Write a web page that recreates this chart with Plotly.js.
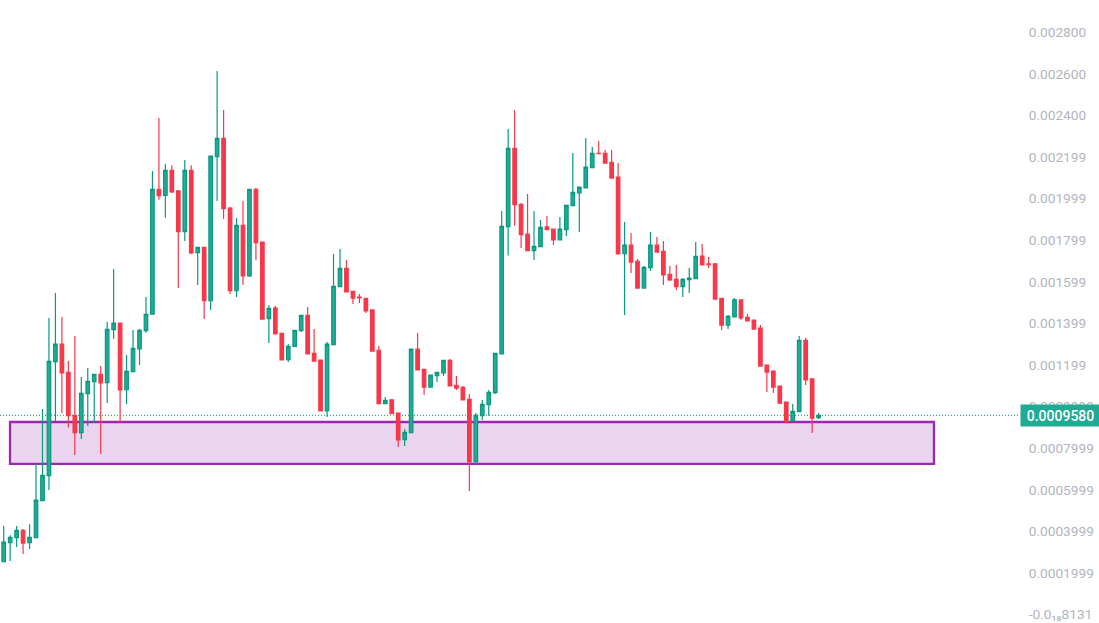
<!DOCTYPE html>
<html>
<head>
<meta charset="utf-8">
<script src="https://cdn.plot.ly/plotly-3.0.1.min.js"></script>
<style>html,body{margin:0;padding:0;background:#fff}#c{width:1099px;height:623px}</style>
</head>
<body>
<div id="c"></div>
<script>
// Prices in millionths (1e-6)
const openM = [254,346,370,405,346,370,548,668,1216,1300,1165,958,875,1062,1120,1155,1115,1370,1401,1081,1168,1278,1365,1444,2045,2016,2136,2037,1841,2136,1740,1766,1509,2202,2290,1954,1557,1872,1629,2045,1791,1423,1474,1352,1226,1290,1365,1439,1256,1224,979,1298,1577,1665,1554,1526,1521,1465,1271,1014,1032,969,841,875,1276,1179,1094,1149,1162,1223,1102,1093,1035,734,956,1009,1067,1254,1865,2242,1973,1829,1750,1769,1864,1853,1802,1851,1966,2028,2052,2149,2218,2218,2175,2103,1735,1776,1699,1570,1668,1776,1747,1636,1612,1577,1610,1615,1724,1686,1686,1521,1392,1431,1513,1429,1416,1378,1200,1171,1099,1022,931,976,1319,1133,947];
const highM = [426,381,426,412,434,724,989,1426,1546,1431,1219,1340,1142,1186,1155,1195,1407,1662,1401,1248,1368,1373,1527,2133,2388,2166,2160,2041,2186,2160,1766,1766,2204,2614,2426,1960,1907,1989,2045,2051,1791,1489,1484,1352,1301,1367,1439,1479,1373,1224,1311,1734,1758,1705,1554,1541,1521,1465,1291,1046,1037,969,892,1276,1354,1179,1151,1165,1223,1229,1147,1099,1061,969,1032,1080,1256,1940,2335,2426,1979,2022,1940,1897,1917,1853,1912,1968,2219,2055,2291,2248,2277,2234,2234,2171,1888,1835,1710,1676,1840,1815,1796,1676,1681,1618,1666,1791,1782,1719,1690,1521,1440,1522,1513,1445,1416,1392,1200,1171,1099,1022,1013,1340,1330,1133,969];
const lowM = [253,258,325,291,315,370,548,599,929,969,899,767,844,907,923,772,1017,1325,923,1013,1168,1200,1355,1444,1995,1908,2027,1570,1796,1734,1585,1421,1465,1989,1902,1541,1527,1585,1623,1705,1421,1306,1349,1224,1214,1290,1359,1253,1219,979,950,1298,1577,1551,1493,1498,1450,1267,1014,1014,966,806,811,875,1176,1056,1094,1118,1147,1099,1080,1032,594,734,936,956,1061,1254,1726,1870,1763,1750,1705,1769,1851,1777,1802,1820,1966,1840,2052,2149,2216,2171,2099,1734,1440,1642,1570,1570,1652,1743,1585,1604,1561,1527,1546,1615,1681,1666,1517,1368,1373,1431,1416,1412,1373,1195,1070,1065,1013,926,931,976,1104,873,940];
const closeM = [348,372,405,344,372,550,670,1218,1300,1162,956,875,1064,1122,1155,1114,1372,1401,1080,1170,1280,1367,1444,2045,2014,2136,2032,1841,2136,1739,1766,1509,2204,2290,1952,1557,1872,1629,2045,1788,1421,1473,1349,1224,1290,1367,1439,1253,1219,979,1300,1578,1665,1551,1522,1523,1460,1267,1014,1030,966,840,876,1276,1176,1094,1151,1165,1223,1099,1089,1032,734,958,1011,1069,1256,1867,2242,1971,1827,1750,1771,1862,1851,1802,1853,1968,2030,2055,2151,2218,2216,2171,2099,1734,1776,1695,1570,1670,1776,1743,1633,1609,1577,1612,1618,1723,1681,1683,1517,1392,1434,1513,1426,1412,1373,1195,1166,1094,1017,926,977,1319,1128,945,958];

const tickM = [2800,2600,2400,2200,2000,1800,1600,1400,1200,1000,800,600,400,200,0];
const tickLabels = ["0.002800","0.002600","0.002400","0.002199","0.001999","0.001799","0.001599","0.001399","0.001199","0.0009999","0.0007999","0.0005999","0.0003999","0.0001999","-0.0₁₈8131"];
const lastPriceM = 958;
const lastPriceLabel = "0.0009580";
const zoneTopM = 926;
const zoneBottomM = 725;
const zoneStartBar = 0.98;
const zoneEndBar = 143.84;

const toPrice = a => a.map(v => v * 1e-6);
const bars = openM.map((_, i) => i);

const trace = {
  type: 'candlestick',
  x: bars,
  open: toPrice(openM), high: toPrice(highM), low: toPrice(lowM), close: toPrice(closeM),
  whiskerwidth: 0,
  hoverinfo: 'skip',
  increasing: {line: {color: '#089981', width: 1.2}, fillcolor: '#22AB94'},
  decreasing: {line: {color: '#F7374A', width: 1.2}, fillcolor: '#F7374A'}
};

const layout = {
  width: 1099, height: 623,
  margin: {l: 0, r: 79, t: 0, b: 0, pad: 0},
  paper_bgcolor: '#fff', plot_bgcolor: '#fff',
  showlegend: false,
  boxgap: 0.22,
  xaxis: {type: 'linear', range: [-0.57, 157.14], visible: false, rangeslider: {visible: false}, fixedrange: true},
  yaxis: {
    side: 'right', range: [-40.4e-6, 2955e-6], showgrid: false, zeroline: false, showline: false,
    tickmode: 'array', tickvals: toPrice(tickM), ticktext: tickLabels,
    ticks: 'outside', ticklen: 5, tickcolor: 'rgba(0,0,0,0)',
    ticklabeloverflow: 'allow',
    tickfont: {family: 'Roboto, sans-serif', size: 13.7, color: '#B2B5BE'}, fixedrange: true
  },
  shapes: [
    {type: 'line', xref: 'paper', x0: 0, x1: 1, yref: 'y', y0: lastPriceM * 1e-6, y1: lastPriceM * 1e-6,
     line: {color: '#089981', width: 1, dash: '1px,2px'}, layer: 'below'},
    {type: 'rect', xref: 'x', x0: zoneStartBar, x1: zoneEndBar, yref: 'y', y0: zoneBottomM * 1e-6, y1: zoneTopM * 1e-6,
     line: {color: '#9C27B0', width: 2.3}, fillcolor: 'rgba(156,39,176,0.2)', layer: 'below'}
  ],
  annotations: [
    {xref: 'paper', x: 1, xanchor: 'left', yref: 'y', y: lastPriceM * 1e-6, yanchor: 'middle', yshift: 0,
     text: lastPriceLabel, showarrow: false, width: 79, height: 21, bgcolor: '#22AB94', borderpad: 0,
     font: {family: 'Roboto, sans-serif', size: 14, color: '#fff', weight: 500}, align: 'center'}
  ]
};

Plotly.newPlot('c', [trace], layout, {displayModeBar: false, staticPlot: true});
</script>
</body>
</html>
